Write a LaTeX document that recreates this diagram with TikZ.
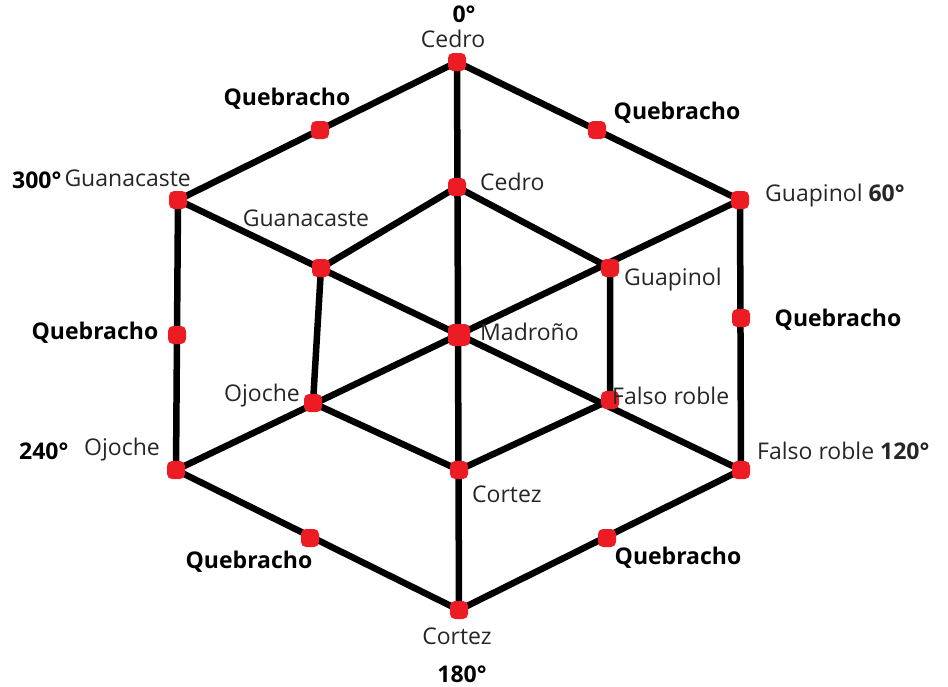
\documentclass[tikz,border=0pt]{standalone}
\usepackage{fontspec}
\setmainfont{Open Sans}
\definecolor{dotred}{HTML}{ED1C24}
\begin{document}
\begin{tikzpicture}[x=1pt,y=-1pt,
  edge/.style={line width=6.5pt,black,line cap=round},
  dot/.style={fill=dotred,rounded corners=5pt,minimum size=18pt,inner sep=0pt,draw=none},
  lbl/.style={font=\fontsize{23}{27}\selectfont,inner sep=0pt,text=black!85},
  blbl/.style={font=\fontsize{23}{27}\selectfont\bfseries,inner sep=0pt}]
\useasboundingbox (0,0) rectangle (948,686);
% outer hexagon
\coordinate (O0) at (457,62);
\coordinate (O60) at (740,200);
\coordinate (O120) at (741,470);
\coordinate (O180) at (459,610);
\coordinate (O240) at (176,470);
\coordinate (O300) at (178,200);
% inner hexagon
\coordinate (I0) at (457,187);
\coordinate (I60) at (610,268);
\coordinate (I120) at (610,400);
\coordinate (I180) at (459,470);
\coordinate (I240) at (313,403);
\coordinate (I300) at (321,268);
\coordinate (C) at (459,335);
% midpoints
\coordinate (M1) at (320,130);
\coordinate (M2) at (597,130);
\coordinate (M3) at (741,318);
\coordinate (M4) at (607,538);
\coordinate (M5) at (310,538);
\coordinate (M6) at (177,335);
% lines
\draw[edge] (O0) -- (O60) -- (O120) -- (O180) -- (O240) -- (O300) -- cycle;
\draw[edge] (I0) -- (I60) -- (I120) -- (I180) -- (I240) -- (I300) -- cycle;
\draw[edge] (O0) -- (O180);
\draw[edge] (O300) -- (O120);
\draw[edge] (O60) -- (O240);
% dots
\foreach \p in {O0,O60,O120,O180,O240,O300,I0,I60,I120,I180,I240,I300,M1,M2,M3,M4,M5,M6}
  \node[dot] (d\p) at (\p) {};
\node[dot,minimum size=22pt] (dC) at (C) {};
% labels
\node[blbl] (t0) at (464,14) {0°};
\node[lbl] (l0) at (453,39) {Cedro};
\node[blbl] (q1) at (287,99) {Quebracho};
\node[blbl] (q2) at (677,113) {Quebracho};
\node[blbl,anchor=west] (t300) at (12,180) {300°};
\node[lbl,anchor=east] (l300) at (191,178) {Guanacaste};
\node[lbl,anchor=west] (li0) at (480,182) {Cedro};
\node[lbl,anchor=west] (l60) at (765,196) {Guapinol \textbf{60°}};
\node[lbl] (li300) at (306,218) {Guanacaste};
\node[lbl,anchor=west] (li60) at (624,280) {Guapinol};
\node[blbl] (q6) at (95,333) {Quebracho};
\node[lbl,anchor=west] (lc) at (480,332) {Madroño};
\node[blbl] (q3) at (838,320) {Quebracho};
\node[lbl,anchor=east] (li240) at (300,396) {Ojoche};
\node[lbl,anchor=west] (li120) at (612,396) {Falso roble};
\node[blbl,anchor=west] (t240) at (19,451) {240°};
\node[lbl,anchor=east] (l240) at (160,450) {Ojoche};
\node[lbl,anchor=west] (li180) at (472,494) {Cortez};
\node[lbl,anchor=west] (l120) at (757,451) {Falso roble \textbf{120°}};
\node[blbl] (q5) at (249,562) {Quebracho};
\node[blbl] (q4) at (678,558) {Quebracho};
\node[lbl] (l180) at (457,636) {Cortez};
\node[blbl] (t180) at (462,674) {180°};
\end{tikzpicture}
\end{document}
